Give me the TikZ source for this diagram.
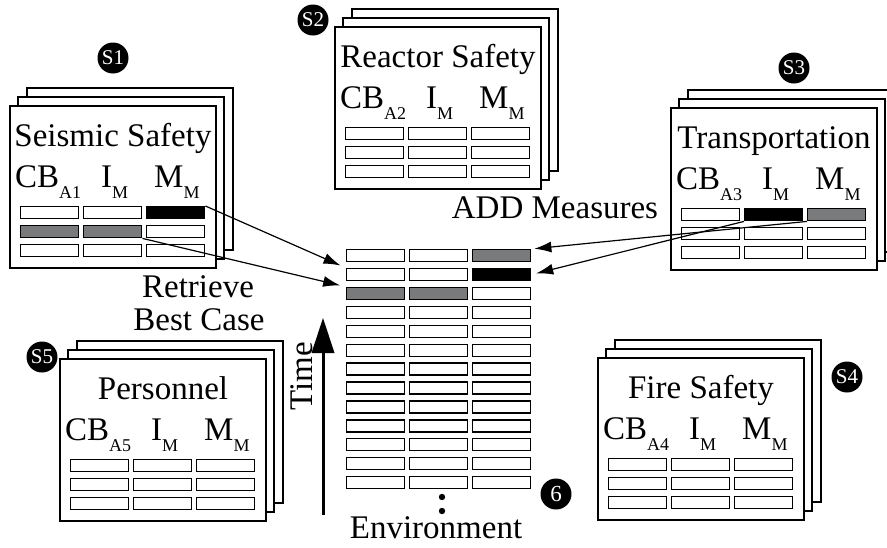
\documentclass[tikz,border=0pt]{standalone}
\usepackage{fontspec}
\setmainfont{Liberation Serif}
\usepackage{tikz}
\usetikzlibrary{arrows.meta}
\usetikzlibrary{positioning}
\usetikzlibrary{calc}
\definecolor{cellgray}{RGB}{120,122,124}
\tikzstyle{cell}=[draw,fill=white,line width=1.4pt,minimum width=58pt,minimum height=12pt,inner sep=0pt,anchor=north west]
\tikzstyle{sheet}=[draw,fill=white,line width=1.5pt]
\tikzstyle{badge}=[circle,fill=black,text=white,minimum size=31pt,inner sep=0pt,font=\fontsize{21}{21}\selectfont]
\tikzstyle{big}=[font=\fontsize{33}{33}\selectfont,inner sep=0pt]
\tikzstyle{feed}=[-{Latex[length=17pt,width=11pt]},line width=1.2pt]
\newcommand{\lowidx}[1]{\raisebox{-11pt}{\fontsize{18}{18}\selectfont #1}}
% one stacked sheet: name, x, y, title, index
\newcommand{\sheetstack}[5]{%
\begin{scope}[shift={(#2,#3)}]
\draw[sheet] (17,-18) rectangle ++(206,162);
\draw[sheet] (8,-9) rectangle ++(206,162);
\draw[sheet] (0,0) rectangle ++(206,162);
\node[big,anchor=base] (#1-title) at (103,40) {#4};
\node[big,anchor=base west] (#1-cb) at (5,81) {CB\lowidx{#5}};
\node[big,anchor=base west] (#1-i) at (91,81) {I\lowidx{M}};
\node[big,anchor=base west] (#1-m) at (144,81) {M\lowidx{M}};
\foreach \r in {1,2,3}{
  \foreach \c in {1,2,3}{
    \node[cell,#1-\r-\c/.try] (#1-\r-\c) at ({10+63*(\c-1)},{100+19*(\r-1)}) {};
  }
}
\end{scope}}

\begin{document}
\begin{tikzpicture}[x=1pt,y=-1pt]
\tikzset{s1-1-3/.style={fill=black},s1-2-1/.style={fill=cellgray},s1-2-2/.style={fill=cellgray},
  s3-1-2/.style={fill=black},s3-1-3/.style={fill=cellgray},
  env-1-3/.style={fill=cellgray},env-2-3/.style={fill=black},env-3-1/.style={fill=cellgray},env-3-2/.style={fill=cellgray}}
\useasboundingbox (0,0) rectangle (887,547);

\sheetstack{s1}{10}{106}{Seismic Safety}{A1}
\sheetstack{s2}{335}{27}{Reactor Safety}{A2}
\sheetstack{s3}{671}{108}{Transportation}{A3}
\sheetstack{s4}{598}{358}{Fire Safety}{A4}
\sheetstack{s5}{60}{359}{Personnel}{A5}

\node[badge] (b1) at (113,58) {S1};
\node[badge] (b2) at (313,20) {S2};
\node[badge] (b3) at (794,68) {S3};
\node[badge] (b4) at (847,377) {S4};
\node[badge] (b5) at (42,357) {S5};
\node[badge,font=\fontsize{23}{23}\selectfont] (b6) at (556,494) {6};

\foreach \r in {1,...,13}{
  \foreach \c in {1,2,3}{
    \node[cell,env-\r-\c/.try] (env-\r-\c) at ({346+63*(\c-1)},{249+18.9*(\r-1)}) {};
  }
}
\fill (442,497) circle (3.2);
\fill (442,511) circle (3.2);
\node[big,anchor=base] (envlabel) at (436,538) {Environment};

\coordinate (tbot) at (323,515);
\coordinate (ttop) at (323,318);
\draw[line width=3pt] (tbot) -- ($(ttop)+(0,30)$);
\fill (ttop) -- ($(ttop)+(-11.5,35)$) -- ($(ttop)+(11.5,35)$) -- cycle;
\node[big,rotate=90] (timelabel) at (302,376) {Time};

\node[big,anchor=base] (retrieve) at (198,297) {Retrieve};
\node[big,anchor=base] (bestcase) at (199,330) {Best Case};
\node[big,anchor=base] (addlabel) at (555,218) {ADD Measures};

\draw[feed,shorten >=6pt] (s1-1-3.north east) -- (env-2-1.north west);
\draw[feed,shorten >=6pt] (s1-2-2.south east) -- (env-3-1.north west);
\draw[feed,shorten >=3pt] (s3-1-3.south west) -- (env-1-3.north east);
\draw[feed,shorten >=5pt] (s3-1-2.south west) -- (env-2-3.east);
\end{tikzpicture}
\end{document}
